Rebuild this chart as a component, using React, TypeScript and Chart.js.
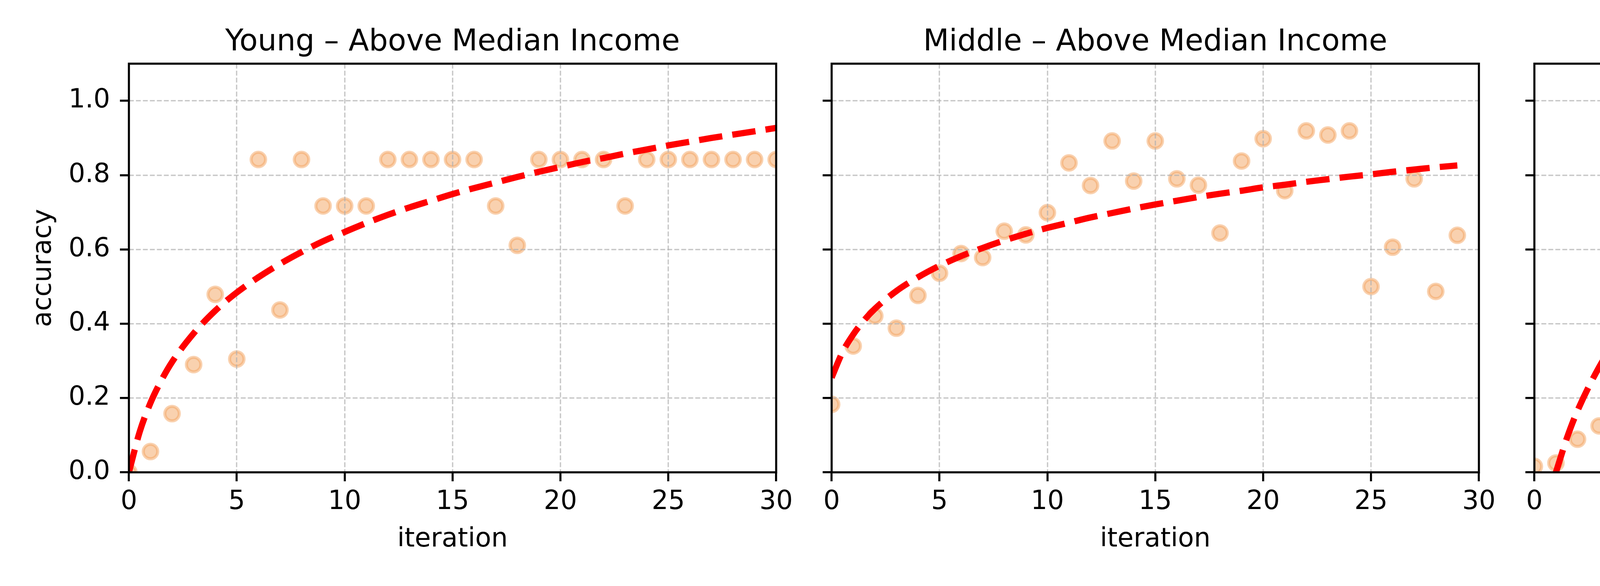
import React, { useEffect, useRef } from 'react';
import { Chart, registerables } from 'chart.js';

Chart.register(...registerables);

// ---------------- data ----------------
const iterations = [0, 1, 2, 3, 4, 5, 6, 7, 8, 9, 10, 11, 12, 13, 14, 15, 16, 17, 18, 19, 20, 21, 22, 23, 24, 25, 26, 27, 28, 29, 30];
const fitIterations = [0, 0.5, 1, 1.5, 2, 3, 4, 5, 6, 7, 8, 9, 10, 11, 12, 13, 14, 15, 16, 17, 18, 19, 20, 21, 22, 23, 24, 25, 26, 27, 28, 29, 30];

const panelTitles = [
  'Young \u2013 Above Median Income',
  'Middle \u2013 Above Median Income',
  'Middle \u2013 Below Median Income',
  'Old - Below Median Income',
];

const accYoungAbove = [0.0, 0.056, 0.158, 0.29, 0.479, 0.305, 0.842, 0.437, 0.842, 0.717, 0.717, 0.717, 0.842, 0.842, 0.842, 0.842, 0.842, 0.717, 0.611, 0.842, 0.842, 0.842, 0.842, 0.717, 0.842, 0.842, 0.842, 0.842, 0.842, 0.842, 0.842];
const accMiddleAbove = [0.183, 0.34, 0.421, 0.388, 0.476, 0.536, 0.589, 0.578, 0.649, 0.639, 0.699, 0.833, 0.772, 0.892, 0.784, 0.892, 0.79, 0.773, 0.644, 0.838, 0.898, 0.758, 0.919, 0.908, 0.919, 0.5, 0.606, 0.79, 0.487, 0.638];
const accMiddleBelow = [0.016, 0.025, 0.089, 0.125, 0.083, 0.131, 0.21, 0.364, 0.653, 1.0, 1.0, 0.599, 1.0, 1.0, 1.0, 0.884, 1.0, 1.0, 1.0, 1.0, 1.0, 1.0, 1.0, 1.0, 1.0, 1.0, 1.0, 1.0, 1.0, 1.0, 1.0];
const accOldBelow = [0.489, 0.529, 0.547, 0.573, 0.589, 0.567, 0.617, 0.657, 0.756, 0.79, 0.808, 0.813, 0.807, 0.867, 0.649, 0.839, 0.701, 0.774, 0.807, 0.891, 0.679, 0.891, 0.863, 0.891, 0.884, 0.891, 0.891, 0.802, 0.835, 0.892, 0.891];

const fitYoungAbove = [0.0, 0.109, 0.187, 0.247, 0.297, 0.374, 0.435, 0.484, 0.525, 0.561, 0.593, 0.622, 0.647, 0.671, 0.693, 0.713, 0.731, 0.749, 0.765, 0.78, 0.795, 0.809, 0.822, 0.835, 0.846, 0.858, 0.869, 0.88, 0.89, 0.9, 0.909, 0.918, 0.927];
const fitMiddleAbove = [0.255, 0.323, 0.371, 0.409, 0.44, 0.488, 0.525, 0.556, 0.582, 0.604, 0.624, 0.642, 0.658, 0.672, 0.686, 0.698, 0.71, 0.721, 0.731, 0.741, 0.75, 0.758, 0.767, 0.774, 0.782, 0.789, 0.796, 0.802, 0.809, 0.815, 0.821, 0.826, null];
const fitMiddleBelow = [null, null, 0.0, 0.091, 0.166, 0.283, 0.375, 0.45, 0.513, 0.568, 0.616, 0.659, 0.698, 0.734, 0.767, 0.797, 0.825, 0.852, 0.877, 0.9, 0.922, 0.943, 0.963, 0.982, 1.0, 1.018, 1.035, 1.051, 1.066, 1.081, 1.096, 1.109, 1.123];
const fitOldBelow = [0.421, 0.475, 0.514, 0.544, 0.568, 0.607, 0.637, 0.661, 0.682, 0.7, 0.715, 0.73, 0.742, 0.754, 0.765, 0.775, 0.784, 0.793, 0.801, 0.808, 0.815, 0.822, 0.829, 0.835, 0.841, 0.847, 0.852, 0.858, 0.863, 0.868, 0.872, 0.877, 0.881];

const xTickValues = [0, 5, 10, 15, 20, 25, 30];
const yTickValues = [0, 0.2, 0.4, 0.6, 0.8, 1.0];

const panelAcc = [accYoungAbove, accMiddleAbove, accMiddleBelow, accOldBelow];
const panelFit = [fitYoungAbove, fitMiddleAbove, fitMiddleBelow, fitOldBelow];

// ---------------- layout / style ----------------
const FONT = "'DejaVu Sans', 'Liberation Sans', sans-serif";
const CANVAS_W = 2100;
const CANVAS_H = 1500;
const PANEL_STEP = 1799;
const Y_AXIS_W = 330;
const X_AXIS_H = 250;
const PAD_RIGHT = 113;
const PAD_BOTTOM = 41;
const SPINE_W = 5.3;

const mplLayers = {
  id: 'mplLayers',
  beforeDatasetDraw(chart: any, args: any) {
    const ds = chart.data.datasets[args.index];
    if (ds && ds.isFit) return false;
    return true;
  },
  afterDraw(chart: any) {
    const ctx = chart.ctx;
    const a = chart.chartArea;
    chart.data.datasets.forEach((ds: any, i: number) => {
      if (!ds.isFit) return;
      const meta = chart.getDatasetMeta(i);
      ctx.save();
      ctx.beginPath();
      ctx.rect(a.left, a.top, a.right - a.left, a.bottom - a.top);
      ctx.clip();
      meta.controller.draw();
      ctx.restore();
    });
    ctx.save();
    ctx.strokeStyle = '#000000';
    ctx.lineWidth = SPINE_W;
    ctx.strokeRect(a.left, a.top, a.right - a.left, a.bottom - a.top);
    ctx.restore();
  },
};

function Panel({ index }: { index: number }) {
  const ref = useRef<HTMLCanvasElement | null>(null);

  useEffect(() => {
    if (!ref.current) return;
    const acc = panelAcc[index];
    const fit = panelFit[index];
    const scatterData = acc.map((v, i) => ({ x: iterations[i], y: v }));
    const fitData = fit.map((v, i) => ({ x: fitIterations[i], y: v }));
    const first = index === 0;

    const chart = new Chart(ref.current, {
      type: 'scatter',
      data: {
        datasets: [
          {
            type: 'line',
            isFit: true,
            data: fitData,
            borderColor: '#ff0000',
            borderWidth: 16,
            borderDash: [60, 26],
            pointRadius: 0,
            fill: false,
            showLine: true,
            cubicInterpolationMode: 'monotone',
            spanGaps: false,
            clip: 0,
            order: 0,
          } as any,
          {
            type: 'scatter',
            data: scatterData,
            backgroundColor: 'rgba(244,164,96,0.5)',
            borderColor: 'rgba(244,164,96,0.5)',
            borderWidth: 8,
            pointRadius: 18.5,
            pointHoverRadius: 18.5,
            clip: 0,
            order: 1,
          } as any,
        ],
      },
      options: {
        animation: false,
        responsive: false,
        devicePixelRatio: 1,
        events: [],
        layout: { padding: { left: 0, top: 0, right: PAD_RIGHT, bottom: PAD_BOTTOM } },
        plugins: {
          legend: { display: false },
          tooltip: { enabled: false },
          title: {
            display: true,
            text: panelTitles[index],
            color: '#000000',
            fullSize: false,
            font: { family: FONT, size: 76.5, weight: 'normal', lineHeight: 1.2 },
            padding: { top: 63.6, bottom: 7.6 },
          },
        },
        scales: {
          x: {
            type: 'linear',
            position: 'bottom',
            min: 0,
            max: 30,
            afterBuildTicks: (s: any) => {
              s.ticks = xTickValues.map((v) => ({ value: v }));
            },
            afterFit: (s: any) => {
              s.height = X_AXIS_H;
              s.paddingLeft = 0;
              s.paddingRight = 0;
              s.paddingTop = 0;
              s.paddingBottom = 0;
            },
            ticks: {
              autoSkip: false,
              maxRotation: 0,
              minRotation: 0,
              padding: 13,
              color: '#000000',
              font: { family: FONT, size: 67, lineHeight: 1.2 },
              callback: (v: any) => String(v),
            },
            grid: {
              z: 1,
              color: 'rgba(176,176,176,0.7)',
              lineWidth: 3.4,
              drawTicks: true,
              tickLength: 23,
              tickWidth: SPINE_W,
              tickColor: '#000000',
            } as any,
            border: { display: false, dash: [12.5, 5.4] },
            title: {
              display: true,
              text: 'iteration',
              color: '#000000',
              font: { family: FONT, size: 67, lineHeight: 1.2 },
              padding: { top: 0, bottom: 37 },
            },
          },
          y: {
            type: 'linear',
            position: 'left',
            min: 0,
            max: 1.1,
            afterBuildTicks: (s: any) => {
              s.ticks = yTickValues.map((v) => ({ value: v }));
            },
            afterFit: (s: any) => {
              s.width = Y_AXIS_W;
              s.paddingLeft = 0;
              s.paddingRight = 0;
              s.paddingTop = 0;
              s.paddingBottom = 0;
            },
            ticks: {
              padding: 25,
              color: '#000000',
              font: { family: FONT, size: 67, lineHeight: 1.2 },
              callback: (v: any) => (first ? Number(v).toFixed(1) : ''),
            },
            grid: {
              z: 1,
              color: 'rgba(176,176,176,0.7)',
              lineWidth: 3.4,
              drawTicks: true,
              tickLength: 23,
              tickWidth: SPINE_W,
              tickColor: '#000000',
            } as any,
            border: { display: false, dash: [12.5, 5.4] },
            title: {
              display: first,
              text: 'accuracy',
              color: '#000000',
              font: { family: FONT, size: 67, lineHeight: 1.2 },
              padding: { top: 72, bottom: 0 },
            },
          },
        },
      },
      plugins: [mplLayers as any],
    } as any);

    return () => {
      chart.destroy();
    };
  }, [index]);

  return (
    <canvas
      ref={ref}
      width={CANVAS_W}
      height={CANVAS_H}
      style={{
        position: 'absolute',
        left: index * PANEL_STEP,
        top: 0,
        width: CANVAS_W,
        height: CANVAS_H,
        display: 'block',
      }}
    />
  );
}

export default function App() {
  return (
    <div
      style={{
        position: 'absolute',
        left: 0,
        top: 0,
        width: 7500,
        height: 1500,
        background: '#ffffff',
        overflow: 'hidden',
      }}
    >
      {[0, 1, 2, 3].map((i) => (
        <Panel key={i} index={i} />
      ))}
    </div>
  );
}
